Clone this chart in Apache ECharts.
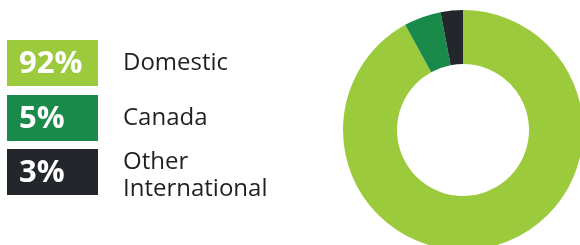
<!DOCTYPE html>
<html>
<head>
<meta charset="utf-8">
<script src="https://cdn.jsdelivr.net/npm/echarts@6/dist/echarts.min.js"></script>
<style>
  html, body { margin: 0; padding: 0; background: #fff; }
  #chart { width: 580px; height: 245px; }
</style>
</head>
<body>
<div id="chart"></div>
<script>
// data
const categories = ["Domestic", "Canada", "Other\nInternational"];
const shares = [92, 5, 3];
const colors = ["#9bca3c", "#198a4a", "#23272b"];

const chart = echarts.init(document.getElementById("chart"));

// legend blocks on the left, built from the arrays
const boxTop = [40, 95, 149];
const graphic = [];
categories.forEach(function (name, i) {
  graphic.push({
    type: "rect",
    x: 7,
    y: boxTop[i],
    shape: { width: 91, height: 46 },
    style: { fill: colors[i] }
  });
  graphic.push({
    type: "text",
    x: 19,
    y: boxTop[i] + 24,
    style: {
      text: shares[i] + "%",
      fill: "#fff",
      font: "bold 31px 'Open Sans'",
      verticalAlign: "middle"
    }
  });
  graphic.push({
    type: "text",
    x: 123,
    y: boxTop[i] + (i == 2 ? 27 : 23),
    style: {
      text: name,
      fill: "#231f20",
      font: "24px 'Open Sans'",
      lineHeight: 27,
      verticalAlign: "middle"
    }
  });
});

const option = {
  animation: false,
  graphic: graphic,
  series: [
    {
      type: "pie",
      center: [463, 130],
      radius: [66, 120],
      startAngle: 90,
      clockwise: true,
      label: { show: false },
      labelLine: { show: false },
      emphasis: { disabled: true },
      data: categories.map(function (name, i) {
        return { name: name, value: shares[i], itemStyle: { color: colors[i] } };
      })
    }
  ]
};

chart.setOption(option);
</script>
</body>
</html>
